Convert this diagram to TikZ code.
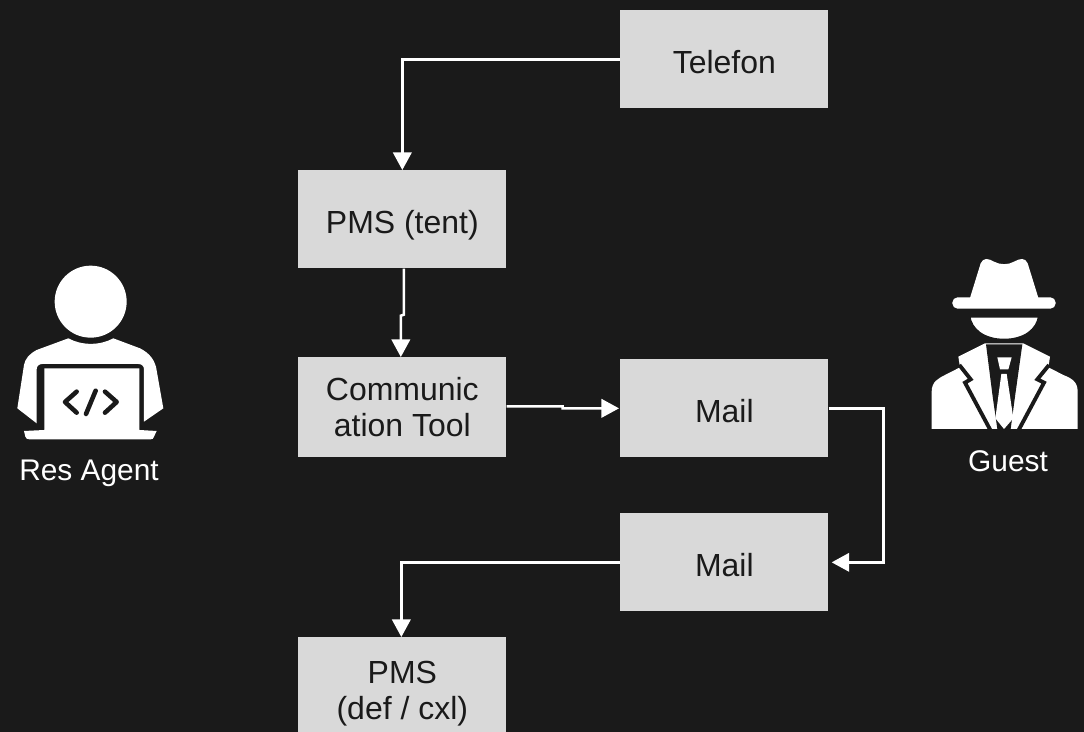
\documentclass[tikz,border=0pt]{standalone}
\usepackage{fontspec}
\setmainfont{Liberation Sans}
\usepackage{tikz}
\usetikzlibrary{calc,arrows.meta}
\definecolor{fond}{HTML}{1A1A1A}
\definecolor{gris}{HTML}{D9D9D9}
\tikzstyle{boite} = [rectangle, fill=gris, text=fond, minimum height=1.96cm, minimum width=4.16cm, inner sep=0pt, align=center, font=\fontsize{18.2}{20.4}\selectfont]
\tikzstyle{ligne} = [text height=18.4pt, text depth=2pt]
\tikzstyle{etiquette} = [text=white, inner sep=0pt, font=\fontsize{17}{20}\selectfont]
\tikzstyle{lien} = [draw=white, line width=1.4pt, -{Triangle[length=10pt,width=10.5pt]}]

\begin{document}
\begin{tikzpicture}[x=0.02cm, y=-0.02cm]

    \fill[fond] (0,0) rectangle (1084,732);
    \useasboundingbox (0,0) rectangle (1084,732);

    \node (telefon) [boite, ligne, anchor=north west] at (620,10) {Telefon};
    \node (tent) [boite, ligne, anchor=north west] at (298,170) {PMS (tent)};
    \node (comm) [boite, anchor=north west, minimum height=2cm] at (298,357) {Communic\\ation Tool};
    \node (mailA) [boite, ligne, anchor=north west] at (620,359) {Mail};
    \node (mailB) [boite, ligne, anchor=north west] at (620,513) {Mail};
    \node (def) [boite, anchor=north west, minimum height=2.26cm] at (298,637) {PMS\\(def / cxl)};

    \node (agent) [etiquette] at (89,473) {Res Agent};
    \node (guest) [etiquette] at (1008,461) {Guest};

    \draw[lien] (telefon.west) -| (tent.north);
    \draw[lien] ($(tent.south) + (1.5,0)$) -- ++(0,46) -- ++(-3,1) -- ($(comm.north) + (-1.5,0)$);
    \draw[lien] ($(comm.east) + (0,-1)$) -- ++(56,0) -- ++(0,2) -- ($(mailA.west) + (-1,0)$);
    \draw[lien] (mailA.east) -- ++(55,0) |- ($(mailB.east) + (3,0)$);
    \draw[lien] (mailB.west) -| ($(def.north) + (-1,0)$);

    \begin{scope}[shift={(0,250)}, x=0.00667cm, y=-0.00667cm]
        \fill[white] (272,155) circle (108);
        \fill[white] (205,265) .. controls (245,287) and (300,287) .. (340,265) -- (420,295) .. controls (450,310) and (462,330) .. (468,350) -- (490,475) -- (432,515) -- (432,358) .. controls (432,348) and (425,342) .. (415,342) -- (127,342) .. controls (117,342) and (110,348) .. (110,358) -- (110,520) -- (52,475) -- (72,345) .. controls (76,325) and (88,312) .. (110,300) -- cycle;
        \fill[white] (133,355) -- (418,355) -- (418,540) -- (470,543) -- (462,560) .. controls (460,566) and (458,568) .. (452,568) -- (88,568) .. controls (82,568) and (78,566) .. (76,560) -- (72,543) -- (133,540) -- cycle;
        \draw[fond, line width=2.6pt, line cap=round, line join=round] (230,425) -- (195,456) -- (230,488);
        \draw[fond, line width=2.6pt, line cap=round] (287,422) -- (258,492);
        \draw[fond, line width=2.6pt, line cap=round, line join=round] (315,425) -- (350,456) -- (315,488);
    \end{scope}

    \begin{scope}[shift={(920,250)}, x=0.00667cm, y=-0.00667cm]
        \fill[white] (148,150) -- (182,40) .. controls (190,22) and (205,25) .. (222,35) .. controls (240,45) and (265,45) .. (282,35) .. controls (300,25) and (315,22) .. (323,40) -- (357,150) -- cycle;
        \fill[white, rounded corners=3pt] (97,142) rectangle (407,176);
        \fill[white] (35,537) -- (35,425) .. controls (35,395) and (55,385) .. (75,375) -- (120,352) -- (115,320) -- (195,280) -- (310,280) -- (390,320) -- (385,352) -- (430,375) .. controls (455,385) and (473,395) .. (473,425) -- (473,537) -- cycle;
        \fill[fond] (198,283) -- (307,283) -- (285,440) -- (272,537) -- (232,537) -- (218,440) -- cycle;
        \fill[white] (232,322) -- (275,322) -- (265,358) -- (240,358) -- cycle;
        \fill[white] (244,372) -- (260,372) -- (280,505) -- (252,537) -- (226,505) -- cycle;
        \draw[fond, line width=2.2pt, line join=miter] (118,345) -- (152,388) -- (135,398) -- (212,542);
        \draw[fond, line width=2.2pt, line join=miter] (387,345) -- (352,388) -- (372,398) -- (295,542);
        \fill[white, draw=fond, line width=2.2pt] (145,197) -- (360,197) .. controls (355,240) and (315,272) .. (252,272) .. controls (190,272) and (150,240) .. (145,197) -- cycle;
    \end{scope}

\end{tikzpicture}
\end{document}
